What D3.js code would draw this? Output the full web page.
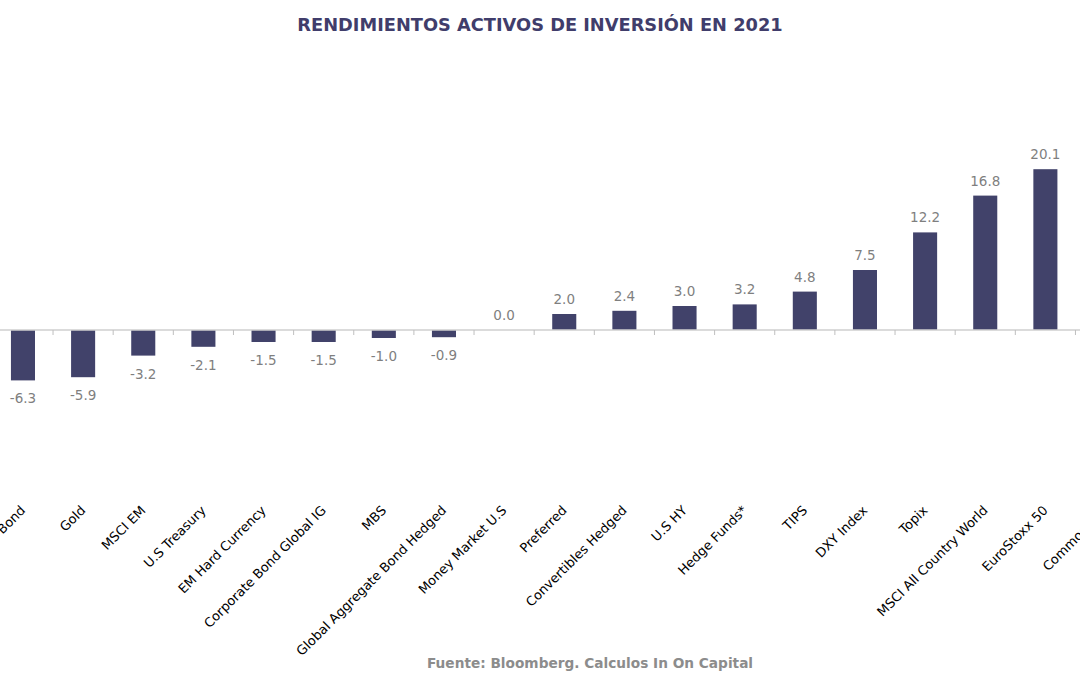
<!DOCTYPE html>
<html>
<head>
<meta charset="utf-8">
<script src="https://cdn.jsdelivr.net/npm/d3@7"></script>
<style>
  body { margin: 0; background: #ffffff; overflow: hidden; }
  svg { display: block; font-family: "DejaVu Sans", Verdana, sans-serif; }
</style>
</head>
<body>
<div id="chart"></div>
<script>
var categories = ["Global Treasury Bond", "Gold", "MSCI EM", "U.S Treasury", "EM Hard Currency",
  "Corporate Bond Global IG", "MBS", "Global Aggregate Bond Hedged", "Money Market U.S",
  "Preferred", "Convertibles Hedged", "U.S HY", "Hedge Funds*", "TIPS", "DXY Index",
  "Topix", "MSCI All Country World", "EuroStoxx 50", "Commodities"];
var returns = [-6.3, -5.9, -3.2, -2.1, -1.5, -1.5, -1.0, -0.9, 0.0,
  2.0, 2.4, 3.0, 3.2, 4.8, 7.5, 12.2, 16.8, 20.1, 27.1];

var title = "RENDIMIENTOS ACTIVOS DE INVERSIÓN EN 2021";
var source = "Fuente: Bloomberg. Calculos In On Capital";

var width = 1080,
  height = 675,
  barColor = "#41426a";

var svg = d3.select("#chart").append("svg")
  .attr("width", width)
  .attr("height", height);

// plot is wider than the window, first and last categories get cut off
var x = d3.scaleBand()
  .domain(categories)
  .range([-7.1, 1135.6])
  .paddingInner(0.6)
  .paddingOuter(0.3);

var y = d3.scaleLinear()
  .domain([-15, 30])
  .range([450, 90]);

svg.append("text")
  .attr("x", 540)
  .attr("y", 31)
  .attr("text-anchor", "middle")
  .style("font-size", "17.8px")
  .style("font-weight", "bold")
  .style("fill", "#403d6b")
  .text(title);

svg.selectAll("rect.bar")
  .data(returns)
  .enter().append("rect")
  .attr("class", "bar")
  .attr("x", function (d, i) { return x(categories[i]); })
  .attr("width", x.bandwidth())
  .attr("y", function (d) { return y(Math.max(0, d)); })
  .attr("height", function (d) { return Math.abs(y(d) - y(0)); })
  .style("fill", barColor);

// axis at zero with ticks between the bars
var step = x.step();
var tickPos = d3.range(categories.length + 1).map(function (k) {
  return x(categories[0]) - x.paddingOuter() * step + k * step;
});

svg.append("line")
  .attr("x1", 0)
  .attr("x2", width)
  .attr("y1", y(0))
  .attr("y2", y(0))
  .style("stroke", "#cfcfcf")
  .style("stroke-width", 1.3);

svg.selectAll("line.tick")
  .data(tickPos)
  .enter().append("line")
  .attr("class", "tick")
  .attr("x1", function (d) { return d; })
  .attr("x2", function (d) { return d; })
  .attr("y1", y(0))
  .attr("y2", y(0) + 5)
  .style("stroke", "#bfbfbf")
  .style("stroke-width", 1);

svg.selectAll("text.value")
  .data(returns)
  .enter().append("text")
  .attr("class", "value")
  .attr("x", function (d, i) { return x(categories[i]) + x.bandwidth() / 2; })
  .attr("y", function (d) { return d < 0 ? y(d) + 23 : y(d) - 10; })
  .attr("text-anchor", "middle")
  .style("font-size", "13.5px")
  .style("fill", "#7f7f7f")
  .text(function (d) { return d.toFixed(1); });

svg.selectAll("text.cat")
  .data(categories)
  .enter().append("text")
  .attr("class", "cat")
  .attr("transform", function (d) {
    return "translate(" + (x(d) + x.bandwidth() / 2) + ",508) rotate(-45)";
  })
  .attr("text-anchor", "end")
  .attr("dy", "0.35em")
  .style("font-size", "13px")
  .style("fill", "#000000")
  .text(function (d) { return d; });

svg.append("text")
  .attr("x", 590)
  .attr("y", 668)
  .attr("text-anchor", "middle")
  .style("font-size", "13.7px")
  .style("font-weight", "bold")
  .style("fill", "#8c8c8c")
  .text(source);
</script>
</body>
</html>
